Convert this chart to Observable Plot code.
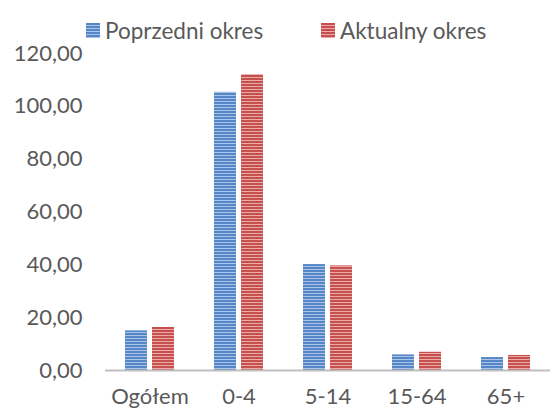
<!DOCTYPE html>
<html>
<head>
<meta charset="utf-8">
<script src="https://cdn.jsdelivr.net/npm/d3@7"></script>
<script src="https://cdn.jsdelivr.net/npm/@observablehq/plot@0.6"></script>
<style>
  html, body { margin: 0; padding: 0; background: #fff; }
  body { width: 551px; height: 412px; position: relative; overflow: hidden; font-family: Lato, sans-serif; }
  #legend { position: absolute; top: 15px; left: 0; width: 551px; height: 30px; color: #595959; font-size: 22.5px; }
  .item { position: absolute; top: 0; display: flex; align-items: center; height: 30px; }
  .sw { width: 14px; height: 15px; margin-right: 5px; }
  #chart { position: absolute; top: 0; left: 0; }
</style>
</head>
<body>
<div id="legend"></div>
<div id="chart"></div>
<script>
const categories = ["Ogółem", "0-4", "5-14", "15-64", "65+"];
const seriesNames = ["Poprzedni okres", "Aktualny okres"];
const previous = [15.0, 105.3, 40.1, 5.9, 4.9];
const current = [16.3, 112.0, 39.6, 6.9, 5.7];
const yTicks = [0, 20, 40, 60, 80, 100, 120];
const fills = ["url(#stripesBlue)", "url(#stripesRed)"];

const data = [];
categories.forEach((c, i) => {
  data.push({category: c, series: seriesNames[0], value: previous[i]});
  data.push({category: c, series: seriesNames[1], value: current[i]});
});

const fmt = d => d.toFixed(2).replace(".", ",");

const plot = Plot.plot({
  width: 551,
  height: 412,
  marginTop: 53,
  marginBottom: 42,
  marginLeft: 104,
  marginRight: 0,
  style: {fontFamily: "Lato, sans-serif", fontSize: "22px", color: "#595959", background: "transparent", overflow: "visible"},
  fx: {domain: categories, padding: 0, label: null, axis: "bottom", tickSize: 0, tickPadding: 18},
  x: {domain: seriesNames, paddingInner: 0.1786, paddingOuter: 0.686, axis: null},
  y: {domain: [0, 120], ticks: yTicks, tickFormat: fmt, tickSize: 0, tickPadding: 23, label: null},
  color: {domain: seriesNames, range: fills},
  marks: [
    Plot.barY(data, {fx: "category", x: "series", y: "value", fill: "series"}),
    Plot.ruleY([0], {stroke: "#c0c0c0", strokeWidth: 2, dy: 0})
  ]
});

const ns = "http://www.w3.org/2000/svg";
const defs = document.createElementNS(ns, "defs");
function pattern(id, dark, light) {
  const p = document.createElementNS(ns, "pattern");
  p.setAttribute("id", id);
  p.setAttribute("patternUnits", "userSpaceOnUse");
  p.setAttribute("width", 8);
  p.setAttribute("height", 3);
  const r1 = document.createElementNS(ns, "rect");
  r1.setAttribute("width", 8); r1.setAttribute("height", 3); r1.setAttribute("fill", dark);
  const r2 = document.createElementNS(ns, "rect");
  r2.setAttribute("y", 2); r2.setAttribute("width", 8); r2.setAttribute("height", 1); r2.setAttribute("fill", light);
  p.appendChild(r1); p.appendChild(r2);
  defs.appendChild(p);
}
pattern("stripesBlue", "#5586c6", "#a9c4e8");
pattern("stripesRed", "#c5504e", "#eaa8a6");
plot.insertBefore(defs, plot.firstChild);
document.getElementById("chart").appendChild(plot);

const legend = document.getElementById("legend");
const lefts = [86, 321];
seriesNames.forEach((s, i) => {
  const it = document.createElement("div");
  it.className = "item";
  it.style.left = lefts[i] + "px";
  const sw = document.createElement("div");
  sw.className = "sw";
  sw.style.background = i === 0
    ? "repeating-linear-gradient(#5586c6 0 2px, #a9c4e8 2px 3px)"
    : "repeating-linear-gradient(#c5504e 0 2px, #eaa8a6 2px 3px)";
  const t = document.createElement("span");
  t.textContent = s;
  it.appendChild(sw); it.appendChild(t);
  legend.appendChild(it);
});
</script>
</body>
</html>
